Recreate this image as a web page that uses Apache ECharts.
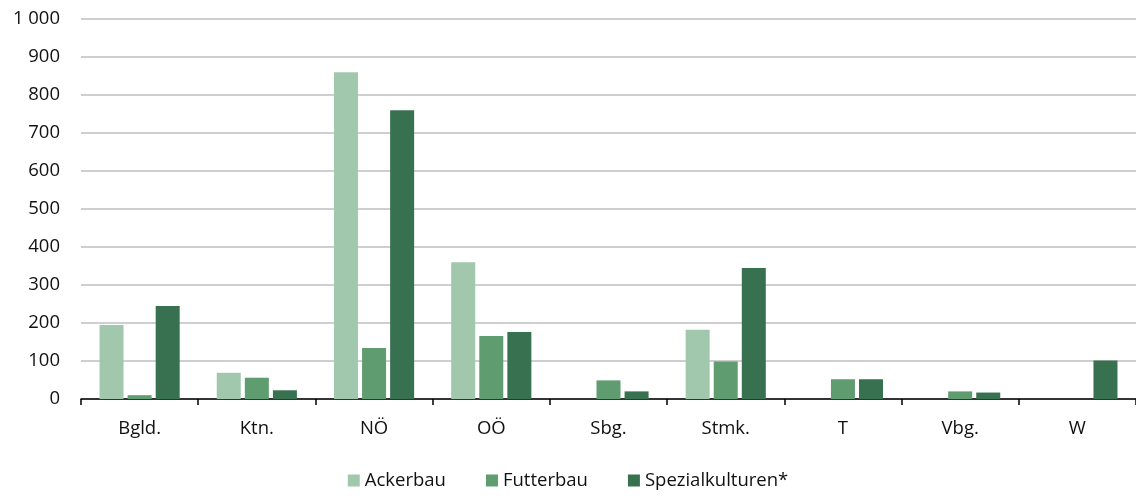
<!DOCTYPE html>
<html>
<head>
<meta charset="utf-8">
<script src="https://cdn.jsdelivr.net/npm/echarts@6/dist/echarts.min.js"></script>
<style>
  html, body { margin: 0; padding: 0; background: #fff; }
  #chart { width: 1136px; height: 499px; }
</style>
</head>
<body>
<div id="chart"></div>
<script>
var categories = ['Bgld.', 'Ktn.', 'NÖ', 'OÖ', 'Sbg.', 'Stmk.', 'T', 'Vbg.', 'W'];
var ackerbau = [195, 69, 860, 360, 0, 182, 0, 0, 0];
var futterbau = [10, 56, 134, 166, 49, 99, 52, 20, 0];
var spezialkulturen = [245, 23, 760, 176, 20, 345, 52, 17, 101];
var seriesNames = ['Ackerbau', 'Futterbau', 'Spezialkulturen*'];
var colors = ['#a1c8ad', '#5f9c70', '#387150'];

var font = '"Open Sans", "Noto Sans", sans-serif';

var myChart = echarts.init(document.getElementById('chart'));

function makeBar(name, data, color) {
  return {
    name: name,
    type: 'bar',
    data: data,
    barWidth: 24,
    barGap: '17%',
    itemStyle: { color: color }
  };
}

var option = {
  animation: false,
  textStyle: { fontFamily: font },
  grid: { left: 81, right: 0, top: 19, bottom: 100 },
  legend: {
    bottom: 4,
    left: 'center',
    itemWidth: 12,
    itemHeight: 12,
    itemGap: 40,
    icon: 'rect',
    textStyle: { fontSize: 18.5, color: '#111', fontFamily: font },
    data: seriesNames
  },
  xAxis: {
    type: 'category',
    data: categories,
    axisLine: { lineStyle: { color: '#000', width: 1.5 } },
    axisTick: { show: true, length: 6, lineStyle: { color: '#000', width: 1.5 } },
    axisLabel: { fontSize: 18.5, color: '#111', margin: 20, fontFamily: font }
  },
  yAxis: {
    type: 'value',
    min: 0,
    max: 1000,
    interval: 100,
    axisLine: { show: false },
    axisTick: { show: false },
    splitLine: { lineStyle: { color: '#bfbfbf', width: 1.5 } },
    axisLabel: {
      fontSize: 18.5,
      color: '#111',
      margin: 21,
      fontFamily: font,
      formatter: function (v) {
        return v >= 1000 ? Math.floor(v / 1000) + ' ' + String(v % 1000).padStart(3, '0') : String(v);
      }
    }
  },
  series: [
    makeBar(seriesNames[0], ackerbau, colors[0]),
    makeBar(seriesNames[1], futterbau, colors[1]),
    makeBar(seriesNames[2], spezialkulturen, colors[2])
  ]
};
myChart.setOption(option);
</script>
</body>
</html>
